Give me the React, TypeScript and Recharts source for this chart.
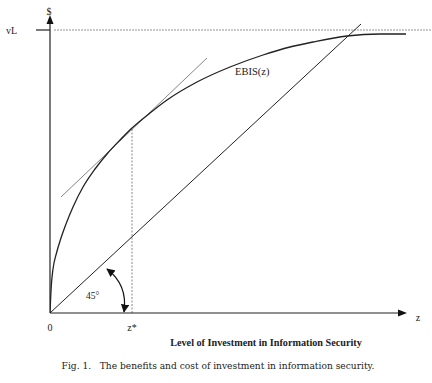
import { Line, LineChart, ReferenceLine, XAxis, YAxis } from 'recharts'

// level of investment z vs. expected benefit, in plot units
const ebisZ = [0, 0.5, 1.5, 3, 6.5, 11, 16, 23, 33, 45, 57, 70, 82, 100, 117, 147, 180, 213, 240, 263, 297, 330, 356]
const ebisV = [0, 12, 30, 44, 60, 75, 89, 106, 126, 144, 159, 173, 185, 200, 213, 231, 246, 258, 266, 271, 277, 279, 279]
const costZ = [0, 311]
const costV = [0, 289]
const tangentZ = [11, 157]
const tangentV = [116, 255]

const Z_STAR = 82
const V_STAR = 185
const VL = 283
const xTicks = [0, Z_STAR]
const xTickLabels: Record<number, string> = { 0: '0', [Z_STAR]: 'z*' }

const ebis = ebisZ.map((z, i) => ({ z, v: ebisV[i] }))
const cost = costZ.map((z, i) => ({ z, v: costV[i] }))
const tangent = tangentZ.map((z, i) => ({ z, v: tangentV[i] }))

const serif = '"Liberation Serif", "Times New Roman", serif'

function ArrowLine(props: any) {
  const { x1, y1, x2, y2 } = props
  const ang = Math.atan2(y2 - y1, x2 - x1)
  const L = 9
  const W = 3.5
  const bx = x2 - L * Math.cos(ang)
  const by = y2 - L * Math.sin(ang)
  const px = -Math.sin(ang) * W
  const py = Math.cos(ang) * W
  return (
    <g>
      <line x1={x1} y1={y1} x2={bx} y2={by} stroke="#222" strokeWidth={1.2} />
      <polygon points={`${x2},${y2} ${bx + px},${by + py} ${bx - px},${by - py}`} fill="#111" />
    </g>
  )
}

export default function App() {
  return (
    <div style={{ position: 'absolute', left: 0, top: 0, width: 432, height: 383, background: '#fff' }}>
      <LineChart width={432} height={383} margin={{ top: 13, right: 0, bottom: 0, left: 0 }}>
        <XAxis
          type="number"
          dataKey="z"
          domain={[0, 382]}
          ticks={xTicks}
          tickFormatter={(v: number) => xTickLabels[v] ?? ''}
          axisLine={false}
          tickLine={false}
          tickMargin={5}
          height={70}
          allowDataOverflow
          tick={{ fontSize: 10, fontFamily: serif, fill: '#222' }}
        />
        <YAxis
          type="number"
          dataKey="v"
          domain={[0, 300]}
          ticks={[VL]}
          tickFormatter={() => 'vL'}
          width={50}
          axisLine={false}
          tickLine={{ stroke: '#222', strokeWidth: 1.2 }}
          tickSize={14}
          tickMargin={19}
          allowDataOverflow
          tick={{ fontSize: 10, fontFamily: serif, fill: '#222' }}
        />
        <ReferenceLine
          segment={[{ x: 4, y: VL }, { x: 382, y: VL }]}
          stroke="#777"
          strokeDasharray="2 1"
          strokeWidth={0.8}
          ifOverflow="visible"
        />
        <ReferenceLine
          segment={[{ x: Z_STAR, y: 0 }, { x: Z_STAR, y: V_STAR }]}
          stroke="#888"
          strokeDasharray="2 1.5"
          strokeWidth={1}
        />
        <ReferenceLine segment={[{ x: 0, y: 0 }, { x: 0, y: 298 }]} shape={ArrowLine} ifOverflow="visible" />
        <ReferenceLine segment={[{ x: 0, y: 0 }, { x: 357, y: 0 }]} shape={ArrowLine} ifOverflow="visible" />
        <Line data={tangent} dataKey="v" type="linear" stroke="#666" strokeWidth={0.8} dot={false} isAnimationActive={false} />
        <Line data={cost} dataKey="v" type="linear" stroke="#222" strokeWidth={1} dot={false} isAnimationActive={false} />
        <Line data={ebis} dataKey="v" type="monotone" stroke="#222" strokeWidth={1.3} dot={false} isAnimationActive={false} />
      </LineChart>
      <svg width={432} height={383} style={{ position: 'absolute', left: 0, top: 0, pointerEvents: 'none' }}>
        <defs>
          <marker id="ah" viewBox="0 0 10 10" refX="9" refY="5" markerWidth="7" markerHeight="7" orient="auto-start-reverse">
            <path d="M0,0 L10,5 L0,10 z" fill="#111" />
          </marker>
        </defs>
        <path d="M107,269 Q128,285 124,312" fill="none" stroke="#111" strokeWidth={1.2} markerStart="url(#ah)" markerEnd="url(#ah)" />
        <g fontFamily={serif} fill="#222">
          <text x={49} y={15} fontSize={10} textAnchor="middle">$</text>
          <text x={418} y={321} fontSize={10} textAnchor="middle">z</text>
          <text x={235} y={75} fontSize={10.5}>EBIS(z)</text>
          <text x={86} y={299} fontSize={9.5}>45°</text>
          <text x={266} y={346} fontSize={10.2} fontWeight="bold" textAnchor="middle">Level of Investment in Information Security</text>
        </g>
        <text x={218} y={369} fontSize={9.1} fontFamily='"DejaVu Serif", serif' fill="#222" textAnchor="middle" xmlSpace="preserve">Fig. 1.   The benefits and cost of investment in information security.</text>
      </svg>
    </div>
  )
}
